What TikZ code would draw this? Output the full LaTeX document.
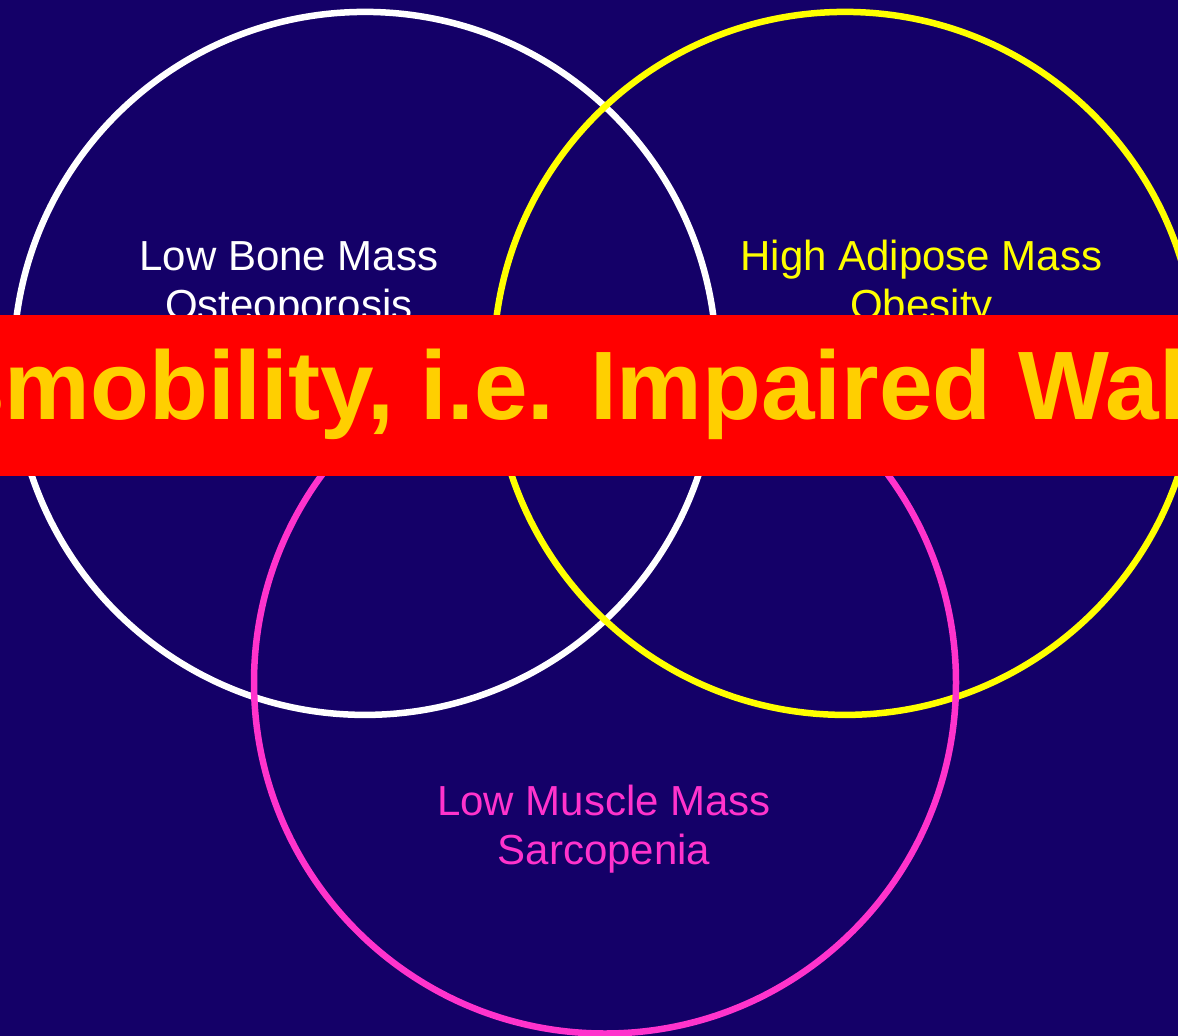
\documentclass[tikz,border=0pt]{standalone}
\usepackage{fontspec}
\usepackage{graphicx}
\setmainfont{Liberation Sans}
\definecolor{bgblue}{HTML}{140068}
\definecolor{pinkc}{HTML}{FF33CC}
\definecolor{yellowc}{HTML}{FFFF00}
\definecolor{goldc}{HTML}{FFCF00}
\definecolor{redc}{HTML}{FF0000}
\tikzset{
  ring/.style={line width=6.5pt},
  lbl/.style={inner sep=0pt, anchor=base, font=\fontsize{42}{49}\selectfont},
  bigtxt/.style={inner sep=0pt, anchor=base west, text=goldc, font=\fontsize{97.3}{110}\selectfont\bfseries}
}
\begin{document}
\begin{tikzpicture}[x=1pt,y=-1pt]
\useasboundingbox (0,0) rectangle (1178,1036);
\clip (0,0) rectangle (1178,1036);
\fill[bgblue] (0,0) rectangle (1178,1036);
% circles
\draw[ring, white] (365,363.4) circle[radius=351.5pt];
\draw[ring, yellowc] (845,363.4) circle[radius=351.5pt];
\draw[ring, pinkc] (605,682.5) circle[radius=351pt];
% labels
\node[lbl, text=white] (boneA) at (288.8,270.7) {Low Bone Mass};
\node[lbl, text=white] (boneB) at (288.8,319.3) {Osteoporosis};
\node[lbl, text=yellowc] (fatA) at (921.5,270.7) {High Adipose Mass};
\node[lbl, text=yellowc] (fatB) at (921.5,319.3) {Obesity};
\node[lbl, text=pinkc] (muscA) at (604,815.7) {Low Muscle Mass};
\node[lbl, text=pinkc] (muscB) at (604,864.3) {Sarcopenia};
% red band
\fill[redc] (0,315) rectangle (1178,475.5);
\node[bigtxt] (banner) at (-172,419) {\scalebox{0.99}[1]{Dysmobility, i.e. Impaired Walking}};
\end{tikzpicture}
\end{document}
